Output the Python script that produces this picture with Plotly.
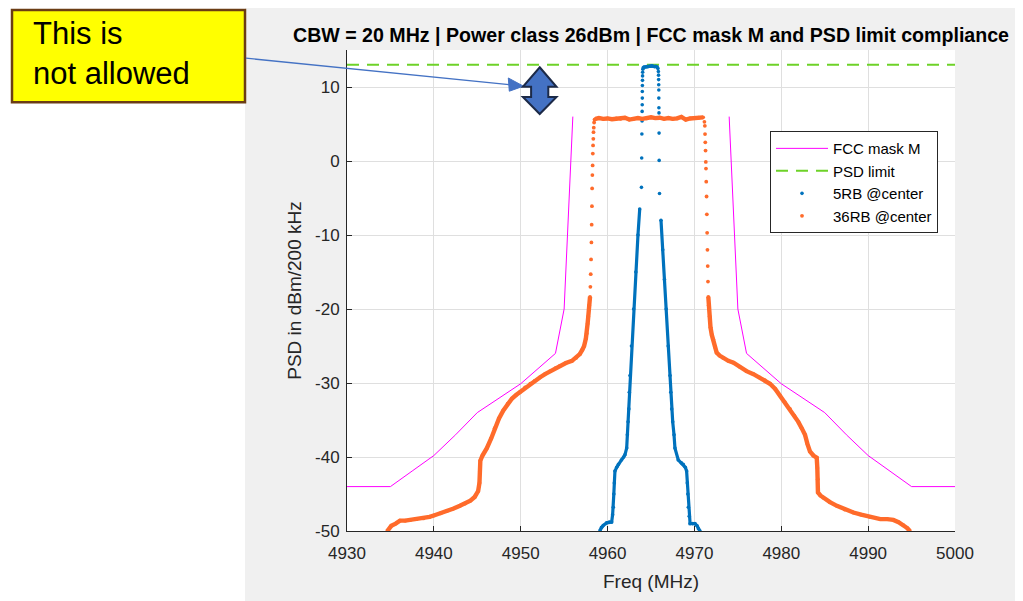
import plotly.graph_objects as go

# ---------------- data ----------------
mask_freq = [4930, 4935, 4937.5, 4940, 4942.5, 4945, 4950, 4954, 4955, 4956, None,
             4974, 4975, 4976, 4980, 4985, 4987.5, 4990, 4992.5, 4995, 5000]
mask_psd = [-44, -44, -41.9, -39.8, -37.0, -34, -30.1, -26, -20, 6, None,
            6, -20, -26, -30.1, -34, -37.0, -39.8, -41.9, -44, -44]

psd_limit_freq = [4930, 5000]
psd_limit = [13, 13]

# 36RB @center (orange) -- dense left skirt
o_left_f = [4934.64, 4935.1, 4935.6, 4936.1, 4936.7, 4937.3, 4938.0, 4938.8, 4939.5, 4940.0,
            4940.8, 4941.5, 4942.2, 4943.0, 4943.6, 4944.2, 4944.7, 4945.1, 4945.25, 4945.3,
            4945.35, 4945.6, 4946.1, 4946.6, 4947.0, 4947.5, 4948.0, 4948.5, 4949.0, 4949.5,
            4949.9, 4950.5, 4951.1, 4951.6, 4952.2, 4952.8, 4953.4, 4954.0, 4954.5, 4955.2,
            4955.9, 4956.4, 4956.8, 4957.1, 4957.3, 4957.5, 4957.6, 4957.7, 4957.78, 4957.88,
            4957.98]
o_left_v = [-50.0, -49.3, -49.0, -48.6, -48.6, -48.5, -48.4, -48.3, -48.1, -47.9,
            -47.6, -47.3, -47.0, -46.6, -46.3, -45.9, -45.4, -44.6, -43.5, -42.0,
            -40.5, -39.8, -38.8, -37.5, -36.1, -34.8, -33.7, -32.8, -32.1, -31.6,
            -31.25, -30.6, -30.1, -29.7, -29.25, -28.8, -28.4, -28.0, -27.7, -27.3,
            -27.0, -26.6, -26.1, -25.5, -25.0, -24.0, -23.3, -22.0, -21.0, -19.5,
            -18.35]
# sparse rising edge (left)
o_ledge_f = [4958.02, 4958.06, 4958.1, 4958.14, 4958.17, 4958.2, 4958.22, 4958.25, 4958.28,
             4958.3, 4958.33, 4958.36, 4958.38, 4958.41, 4958.45, 4958.5]
o_ledge_v = [-17.0, -15.3, -13.3, -11.0, -8.6, -6.1, -3.7, -1.9, -0.6,
             1.0, 2.1, 3.0, 3.9, 4.5, 5.2, 5.6]
# in-band top
o_top_f = [4958.6, 4959.0, 4959.5, 4960.0, 4960.5, 4961.0, 4961.5, 4962.0, 4962.5, 4963.0,
           4963.5, 4964.0, 4964.5, 4965.0, 4965.5, 4966.0, 4966.5, 4967.0, 4967.5, 4968.0,
           4968.5, 4969.0, 4969.5, 4970.0, 4970.5, 4971.0]
o_top_v = [5.7, 5.8, 5.7, 5.75, 5.65, 5.75, 5.7, 5.85, 5.6, 5.7,
           5.8, 5.7, 5.75, 5.9, 5.8, 5.85, 5.7, 5.8, 5.7, 5.75,
           5.95, 5.6, 5.75, 5.8, 5.85, 5.9]
# sparse falling edge (right)
o_redge_f = [4971.15, 4971.2, 4971.22, 4971.25, 4971.28, 4971.31, 4971.33, 4971.36, 4971.4,
             4971.43, 4971.46, 4971.5, 4971.53, 4971.56]
o_redge_v = [5.3, 4.75, 3.64, 2.53, 1.41, -0.13, -1.03, -2.8, -4.8,
             -7.2, -9.7, -12.0, -14.2, -16.3]
# dense right skirt
o_right_f = [4971.6, 4971.65, 4971.75, 4971.85, 4972.0, 4972.17, 4972.35, 4972.56, 4972.9, 4973.3,
             4973.9, 4974.5, 4975.2, 4976.0, 4976.8, 4977.5, 4978.1, 4978.7, 4979.3, 4979.85,
             4980.4, 4981.0, 4981.5, 4981.96, 4982.35, 4982.73, 4983.0, 4983.3, 4983.7, 4984.08,
             4984.15, 4984.2, 4984.22, 4984.5, 4984.84, 4985.6, 4986.4, 4987.3, 4988.3, 4989.2,
             4990.2, 4991.4, 4992.2, 4992.9, 4993.5, 4994.05, 4994.5, 4994.8]
o_right_v = [-18.35, -19.5, -21.0, -22.5, -23.5, -24.1, -25.1, -25.9, -26.3, -26.6,
             -27.0, -27.25, -27.8, -28.4, -28.8, -29.25, -29.6, -30.1, -30.8, -31.7,
             -32.6, -33.5, -34.4, -35.25, -36.1, -37.0, -38.2, -39.25, -39.8, -40.1,
             -41.5, -43.0, -44.8, -45.2, -45.5, -46.1, -46.6, -47.1, -47.5, -47.8,
             -48.1, -48.4, -48.4, -48.5, -48.8, -49.2, -49.6, -50.0]

# 5RB @center (blue)
b_left_f = [4959.13, 4959.3, 4959.5, 4959.9, 4960.2, 4960.47, 4960.58, 4960.66, 4960.72, 4960.78,
            4960.85, 4961.05, 4961.24, 4961.6, 4961.85, 4962.0, 4962.2, 4962.28, 4962.36, 4962.45,
            4962.5, 4962.58, 4962.75, 4963.0, 4963.25, 4963.5, 4963.7]
b_left_v = [-49.9, -49.5, -49.25, -48.9, -48.8, -48.8, -47.8, -46.8, -45.0, -43.5,
            -41.9, -41.4, -41.0, -40.4, -40.0, -39.7, -38.8, -37.0, -35.25, -33.5,
            -31.25, -29.0, -25.0, -20.0, -15.0, -10.0, -6.5]
b_ledge_f = [4963.9, 4963.93, 4963.95, 4963.97, 4963.98, 4963.99, 4964.0, 4964.0, 4964.01,
             4964.02, 4964.03, 4964.04, 4964.06]
b_ledge_v = [-3.56, 0.4, 3.64, 5.4, 6.7, 7.6, 8.5, 9.4, 10.2,
             10.9, 11.5, 12.0, 12.4]
b_top_f = [4964.1, 4964.2, 4964.35, 4964.5, 4964.65, 4964.8, 4964.95, 4965.1, 4965.25, 4965.4,
           4965.55, 4965.7, 4965.8]
b_top_v = [12.6, 12.7, 12.7, 12.75, 12.75, 12.8, 12.8, 12.85, 12.8, 12.75,
           12.8, 12.7, 12.5]
b_redge_f = [4965.85, 4965.87, 4965.88, 4965.89, 4965.9, 4965.9, 4965.91, 4965.92, 4965.93,
             4965.94, 4965.98]
b_redge_v = [12.1, 11.6, 11.0, 10.3, 9.6, 8.5, 7.2, 6.5, 3.77,
             0.08, -4.4]
b_right_f = [4966.15, 4966.35, 4966.55, 4966.75, 4966.98, 4967.19, 4967.28, 4967.38, 4967.5, 4967.65,
             4967.76, 4968.14, 4968.5, 4968.72, 4968.95, 4969.1, 4969.18, 4969.24, 4969.3, 4969.4,
             4969.5, 4969.8, 4970.06, 4970.3, 4970.45, 4970.64]
b_right_v = [-8.0, -12.0, -16.0, -20.0, -25.0, -29.0, -31.25, -33.5, -35.25, -37.0,
             -38.8, -40.4, -40.8, -41.0, -41.4, -41.9, -43.5, -45.0, -46.8, -48.0,
             -49.0, -49.0, -49.0, -49.3, -49.7, -50.0]

x_ticks = [4930, 4940, 4950, 4960, 4970, 4980, 4990, 5000]
y_ticks = [-50, -40, -30, -20, -10, 0, 10]

# ---------------- styling / layout ----------------
OFF = 8                      # the page body puts the figure 8 px in from the window corner
W, H = 1023 - OFF, 601 - OFF
PX0, PX1, PY0, PY1 = 347, 955, 50, 538   # plot area in window pixels

BLUE = '#0072bd'
ORANGE = '#ff6b2b'
GREEN = '#6ed228'
MAGENTA = '#ff00ff'
AX = '#262626'
FONT = 'Liberation Sans, Arial, Helvetica, sans-serif'


def pp(x, y):
    """window pixel -> paper coordinates"""
    return (x - PX0) / (PX1 - PX0), (PY1 - y) / (PY1 - PY0)


def path(points):
    s = ''
    for i, (x, y) in enumerate(points):
        a, b = pp(x, y)
        s += ('M' if i == 0 else 'L') + f'{a:.5f},{b:.5f} '
    return s + 'Z'


def joined(*segs):
    xs, ys = [], []
    for i, (f, v) in enumerate(segs):
        if i:
            xs.append(None)
            ys.append(None)
        xs += f
        ys += v
    return xs, ys


fig = go.Figure()

fig.add_trace(go.Scatter(x=mask_freq, y=mask_psd, mode='lines', name='FCC mask M',
                         line=dict(color=MAGENTA, width=1), legendrank=1))
fig.add_trace(go.Scatter(x=psd_limit_freq, y=psd_limit, mode='lines', name='PSD limit',
                         line=dict(color=GREEN, width=2, dash='12px,8px'), legendrank=2))

# blue
bx, by = joined((b_left_f, b_left_v), (b_top_f, b_top_v), (b_right_f, b_right_v))
fig.add_trace(go.Scatter(x=bx, y=by, mode='lines', showlegend=False, hoverinfo='skip',
                         line=dict(color=BLUE, width=3.2)))
fig.add_trace(go.Scatter(x=b_left_f + b_ledge_f + b_top_f + b_redge_f + b_right_f,
                         y=b_left_v + b_ledge_v + b_top_v + b_redge_v + b_right_v,
                         mode='markers', name='5RB @center', legendrank=3,
                         marker=dict(color=BLUE, size=3.6)))
# orange
ox, oy = joined((o_left_f, o_left_v), (o_top_f, o_top_v), (o_right_f, o_right_v))
fig.add_trace(go.Scatter(x=ox, y=oy, mode='lines', showlegend=False, hoverinfo='skip',
                         line=dict(color=ORANGE, width=4.4)))
fig.add_trace(go.Scatter(x=o_left_f + o_ledge_f + o_top_f + o_redge_f + o_right_f,
                         y=o_left_v + o_ledge_v + o_top_v + o_redge_v + o_right_v,
                         mode='markers', name='36RB @center', legendrank=4,
                         marker=dict(color=ORANGE, size=3.8)))

shapes = []
# white page region left of the figure window
a0, b0 = pp(0, 0)
a1, b1 = pp(245, 700)
shapes.append(dict(type='rect', xref='paper', yref='paper', x0=a0, y0=b0, x1=a1, y1=b1,
                   fillcolor='white', line=dict(width=0), layer='below'))
# yellow callout box
a0, b0 = pp(12, 9.5)
a1, b1 = pp(245, 103)
shapes.append(dict(type='rect', xref='paper', yref='paper', x0=a0, y0=b0, x1=a1, y1=b1,
                   fillcolor='#ffff00', line=dict(color='#6b3d14', width=2.5), layer='above'))
# connector line + arrow head
a0, b0 = pp(246, 58.3)
a1, b1 = pp(509, 85.1)
shapes.append(dict(type='line', xref='paper', yref='paper', x0=a0, y0=b0, x1=a1, y1=b1,
                   line=dict(color='#4472c4', width=1.3), layer='above'))
shapes.append(dict(type='path', xref='paper', yref='paper', layer='above',
                   path=path([(523.5, 86.7), (508.3, 78.4), (509.3, 91.8)]),
                   fillcolor='#4472c4', line=dict(color='#4472c4', width=1)))
# up-down block arrow
shapes.append(dict(type='path', xref='paper', yref='paper', layer='above',
                   path=path([(539.7, 67.5), (556.5, 87.3), (548.3, 87.3), (548.3, 97.7),
                              (556.5, 97.7), (539.7, 115), (522.9, 97.7), (531.1, 97.7),
                              (531.1, 87.3), (522.9, 87.3)]),
                   fillcolor='#4472c4', line=dict(color='#1c2a48', width=2)))

tx, ty = pp(31, 54)
fig.update_layout(
    width=W, height=H,
    margin=dict(l=PX0 - OFF, r=W - (PX1 - OFF), t=PY0 - OFF, b=H - (PY1 - OFF), pad=0),
    paper_bgcolor='#f0f0f0', plot_bgcolor='white',
    font=dict(family=FONT, color=AX),
    shapes=shapes,
    annotations=[dict(text='This is<br>not allowed', xref='paper', yref='paper', x=tx, y=ty,
                      xanchor='left', yanchor='middle', align='left', showarrow=False,
                      font=dict(family=FONT, size=31, color='black'))],
    title=dict(text='CBW = 20 MHz | Power class 26dBm | FCC mask M and PSD limit compliance',
               x=0.5, xref='paper', xanchor='center', y=1 - (35 - OFF) / H, yref='container',
               yanchor='middle', font=dict(family=FONT, size=19.6, color='black', weight='bold')),
    legend=dict(x=pp(770, 0)[0], y=pp(0, 132.3)[1], xanchor='left', yanchor='top',
                bgcolor='white', bordercolor=AX, borderwidth=1,
                font=dict(family=FONT, size=15, color='black'), itemwidth=52,
                tracegroupgap=0),
    showlegend=True,
)
axis_common = dict(ticks='inside', ticklen=5, tickwidth=1, tickcolor=AX, showline=True,
                   linecolor=AX, linewidth=1, showgrid=True, gridcolor='#dfdfdf', gridwidth=1,
                   zeroline=False, tickfont=dict(family=FONT, size=17, color=AX), mirror=False)
fig.update_xaxes(range=[4930, 5000], tickmode='array', tickvals=x_ticks,
                 ticktext=[str(t) for t in x_ticks],
                 title=dict(text='Freq (MHz)', font=dict(family=FONT, size=19, color=AX), standoff=12),
                 ticklabelstandoff=7, **axis_common)
fig.update_yaxes(range=[-50, 15], tickmode='array', tickvals=y_ticks,
                 ticktext=[str(t) for t in y_ticks],
                 title=dict(text='PSD in dBm/200 kHz', font=dict(family=FONT, size=19, color=AX), standoff=8),
                 ticklabelstandoff=3, **axis_common)

fig.write_html('out.html')
